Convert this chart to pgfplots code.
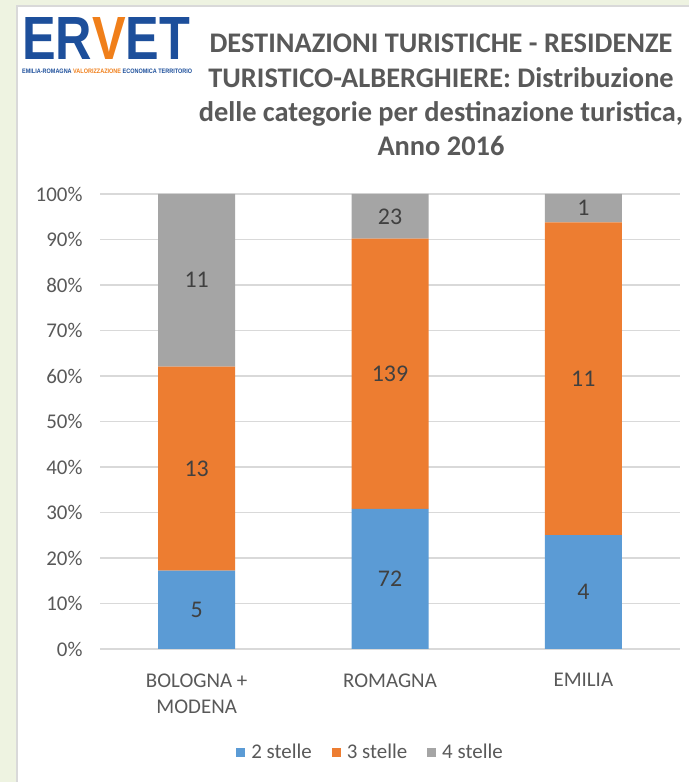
\documentclass[border=0pt]{standalone}
\usepackage{pgfplots}
\pgfplotsset{compat=1.18}
\usepackage{pgfplotstable}
\usepackage{fontspec}
\setmainfont{Carlito}
\newfontfamily\logofont{Liberation Sans}
\definecolor{cblue}{HTML}{5B9BD5}
\definecolor{corange}{HTML}{ED7D31}
\definecolor{cgray}{HTML}{A5A5A5}
\definecolor{gridc}{HTML}{D9D9D9}
\definecolor{tickc}{HTML}{595959}
\definecolor{labc}{HTML}{404040}
\definecolor{bgg}{HTML}{EEF3E1}
\definecolor{logob}{HTML}{1D4F9B}
\definecolor{logoo}{HTML}{F07F1A}
\pgfplotstableread{
x p2 p3 p4 n2 n3 n4
0 17.24 44.83 37.93 5 13 11
1 30.77 59.40 9.83 72 139 23
2 25.00 68.75 6.25 4 11 1
}\data
\begin{document}
\begin{tikzpicture}[x=1bp,y=1bp]
\useasboundingbox (0,0) rectangle (689,782);
\fill[bgg] (0,0) rectangle (689,782);
\fill[white] (17,0) rectangle (689,776);
\draw[gridc,line width=1.2bp] (17,0)--(17,776)--(689,776);
% logo
\node[anchor=south west,inner sep=0pt] at (22,722) {\resizebox{168bp}{42bp}{\logofont\bfseries\textcolor{logob}{ER}\textcolor{logoo}{V}\textcolor{logob}{ET}}};
\node[anchor=west,inner sep=0pt] at (22,711) {\resizebox{170bp}{4.5bp}{\logofont\bfseries\textcolor{logob}{EMILIA-ROMAGNA }\textcolor{logoo}{VALORIZZAZIONE }\textcolor{logob}{ECONOMICA TERRITORIO}}};
% title
\node[align=center,text=tickc,font=\fontsize{28.5}{34.3}\selectfont\bfseries] at (441,687)
{DESTINAZIONI TURISTICHE - RESIDENZE\\TURISTICO-ALBERGHIERE: Distribuzione\\delle categorie per destinazione turistica,\\Anno 2016};
\begin{axis}[
  at={(100bp,133bp)}, anchor=south west,
  scale only axis, width=580bp, height=455bp,
  ybar stacked, bar width=77bp,
  xmin=-0.5, xmax=2.5, ymin=0, ymax=100,
  xtick=data, xticklabels={{BOLOGNA +\\MODENA},ROMAGNA,EMILIA},
  xticklabel style={align=center,text=tickc,font=\fontsize{21}{27}\selectfont,yshift=-21bp},
  ytick={0,10,...,100},
  yticklabel={\pgfmathprintnumber{\tick}\%},
  yticklabel style={text=tickc,font=\fontsize{21}{24}\selectfont,xshift=-14bp},
  /pgf/number format/assume math mode=true,
  ymajorgrids, grid style={gridc,line width=1.2bp},
  axis x line*=bottom, axis y line*=left,
  x axis line style={gridc,line width=1.2bp},
  y axis line style={draw=none},
  major tick length=0pt,
  tick style={draw=none},
  point meta=explicit symbolic,
  nodes near coords={\pgfplotspointmeta},
  every node near coord/.append style={anchor=center,text=labc,font=\fontsize{24}{26}\selectfont},
  legend style={at={(0.4664,-0.2264)},anchor=center,draw=none,legend columns=-1,
    font=\fontsize{21}{24}\selectfont,text=tickc,
    /tikz/every odd column/.append style={column sep=4bp},
    /tikz/every even column/.append style={column sep=18bp}},
  legend image code/.code={\fill[#1] (0bp,-4.5bp) rectangle (9bp,4.5bp);},
]
\addplot[fill=cblue,draw=none] table[x=x,y=p2,meta=n2]{\data};
\addplot[fill=corange,draw=none] table[x=x,y=p3,meta=n3]{\data};
\addplot[fill=cgray,draw=none] table[x=x,y=p4,meta=n4]{\data};
\legend{2 stelle,3 stelle,4 stelle}
\end{axis}
\end{tikzpicture}
\end{document}
